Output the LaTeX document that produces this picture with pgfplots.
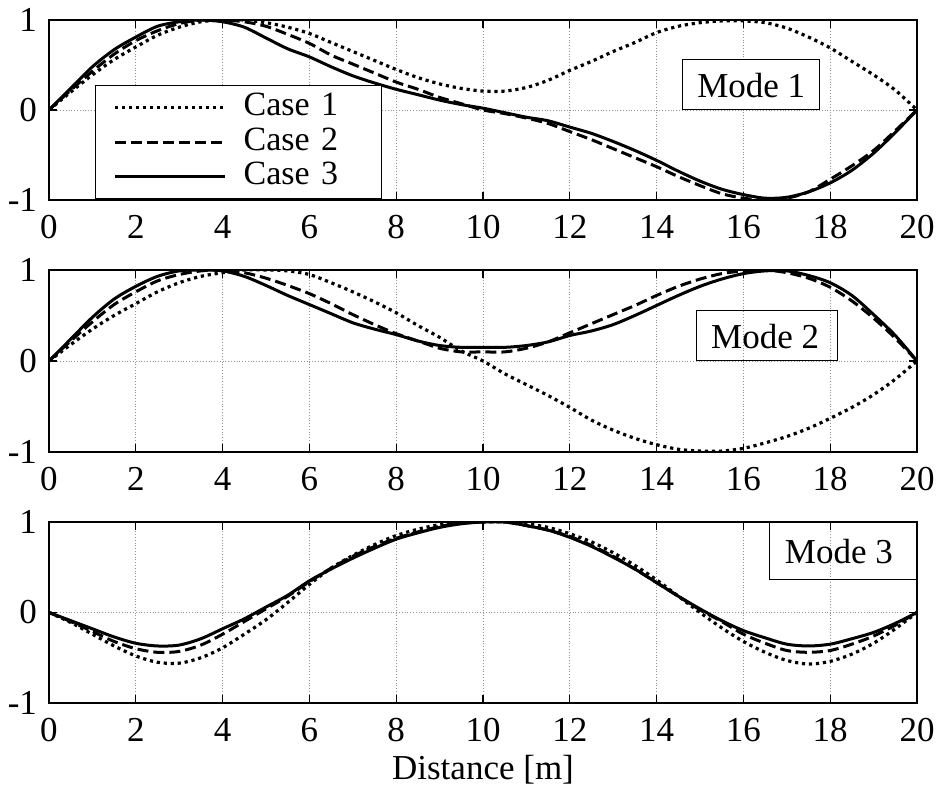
\documentclass[border=0pt]{standalone}
\usepackage{fontspec}
\setmainfont{Liberation Serif}
\usepackage{pgfplots}
\usepackage{pgfplotstable}
\pgfplotsset{compat=1.18}

% Normalised mode shapes along the span, three cases per mode
\pgfplotstableread{
x    c1    c2    c3
0    0     0     0
0.5  0.20  0.22  0.24
1    0.39  0.43  0.48
1.5  0.56  0.62  0.67
2    0.70  0.77  0.81
2.5  0.83  0.88  0.93
3    0.92  0.96  0.98
3.5  0.98  1.00  1.00
4    1.00  1.00  0.98
4.5  1.00  0.98  0.92
5    0.97  0.93  0.80
5.5  0.92  0.84  0.68
6    0.85  0.74  0.59
6.5  0.75  0.61  0.48
7    0.65  0.51  0.38
7.5  0.55  0.41  0.30
8    0.45  0.31  0.23
8.5  0.36  0.23  0.17
9    0.29  0.14  0.11
9.5  0.24  0.07  0.06
10   0.21  0.00  0.02
10.5 0.21  -0.04 -0.03
11   0.25  -0.09 -0.08
11.5 0.33  -0.15 -0.12
12   0.44  -0.24 -0.19
12.5 0.54  -0.33 -0.26
13   0.65  -0.43 -0.35
13.5 0.75  -0.53 -0.45
14   0.86  -0.63 -0.56
14.5 0.93  -0.74 -0.68
15   0.97  -0.84 -0.79
15.5 0.99  -0.93 -0.88
16   0.99  -0.98 -0.94
16.5 0.97  -1.00 -0.98
17   0.91  -0.98 -0.97
17.5 0.81  -0.91 -0.91
18   0.69  -0.77 -0.81
18.5 0.54  -0.62 -0.67
19   0.39  -0.45 -0.48
19.5 0.22  -0.23 -0.25
20   0     0     0
}\modeone

\pgfplotstableread{
x    c1    c2    c3
0    0     0     0
0.5  0.18  0.22  0.24
1    0.35  0.43  0.48
1.5  0.50  0.62  0.68
2    0.63  0.76  0.82
2.5  0.76  0.88  0.93
3    0.86  0.95  0.99
3.5  0.93  0.99  1.00
4    0.97  1.00  0.99
4.5  1.00  0.97  0.93
5    1.00  0.91  0.83
5.5  0.99  0.83  0.72
6    0.95  0.74  0.62
6.5  0.86  0.63  0.52
7    0.76  0.51  0.42
7.5  0.65  0.40  0.35
8    0.53  0.30  0.29
8.5  0.39  0.22  0.22
9    0.26  0.14  0.17
9.5  0.11  0.10  0.15
10   0.00  0.10  0.15
10.5 -0.14 0.10  0.15
11   -0.26 0.14  0.17
11.5 -0.38 0.21  0.21
12   -0.51 0.31  0.28
12.5 -0.65 0.41  0.33
13   -0.76 0.51  0.40
13.5 -0.85 0.61  0.50
14   -0.92 0.72  0.61
14.5 -0.97 0.82  0.72
15   -0.99 0.90  0.82
15.5 -0.99 0.96  0.90
16   -0.96 0.99  0.96
16.5 -0.90 1.00  0.99
17   -0.83 0.97  0.99
17.5 -0.74 0.91  0.94
18   -0.63 0.81  0.86
18.5 -0.51 0.66  0.72
19   -0.37 0.47  0.51
19.5 -0.20 0.25  0.28
20   0     0     0
}\modetwo

\pgfplotstableread{
x    c1    c2    c3
0    0     0     0
0.5  -0.11 -0.10 -0.09
1    -0.24 -0.21 -0.18
1.5  -0.37 -0.32 -0.27
2    -0.48 -0.40 -0.34
2.5  -0.55 -0.44 -0.37
3    -0.56 -0.43 -0.36
3.5  -0.50 -0.36 -0.29
4    -0.39 -0.24 -0.18
4.5  -0.24 -0.10 -0.07
5    -0.08 0.04  0.06
5.5  0.11  0.18  0.19
6    0.31  0.34  0.35
6.5  0.49  0.49  0.48
7    0.63  0.62  0.60
7.5  0.75  0.73  0.71
8    0.85  0.82  0.81
8.5  0.92  0.89  0.88
9    0.97  0.95  0.94
9.5  0.99  0.99  0.98
10   1.00  1.00  1.00
10.5 1.00  1.00  1.00
11   0.98  0.96  0.96
11.5 0.94  0.91  0.91
12   0.87  0.84  0.83
12.5 0.78  0.74  0.73
13   0.66  0.62  0.61
13.5 0.52  0.48  0.48
14   0.36  0.33  0.33
14.5 0.18  0.18  0.18
15   0.00  0.03  0.04
15.5 -0.17 -0.10 -0.09
16   -0.32 -0.24 -0.20
16.5 -0.44 -0.34 -0.28
17   -0.53 -0.42 -0.35
17.5 -0.57 -0.44 -0.37
18   -0.54 -0.42 -0.35
18.5 -0.46 -0.35 -0.29
19   -0.34 -0.26 -0.22
19.5 -0.18 -0.14 -0.12
20   0     0     0
}\modethree

\pgfplotsset{
  modeaxis/.style={
    scale only axis, width=434pt, height=90pt, anchor=south west,
    xmin=0, xmax=20, ymin=-1, ymax=1,
    xtick={0,2,4,6,8,10,12,14,16,18,20},
    xticklabels={0,2,4,6,8,10,12,14,16,18,20},
    ytick={-1,0,1}, yticklabels={-1,0,1},
    grid=major,
    major grid style={gray!85, line width=0.4pt, densely dotted},
    axis line style={line width=0.9pt},
    major tick length=4pt,
    tick style={line width=0.6pt, black},
    tick label style={font=\fontsize{17.5}{20}\selectfont},
    xticklabel style={yshift=-4pt},
    yticklabel style={xshift=-2.5pt},
    label style={font=\fontsize{17.5}{20}\selectfont},
  },
  case1/.style={black, line width=1.6pt, dash pattern=on 1.6pt off 1.9pt, smooth},
  case2/.style={black, line width=1.5pt, dash pattern=on 5.5pt off 2.5pt, smooth},
  case3/.style={black, line width=1.5pt, smooth},
}

\begin{document}
\begin{tikzpicture}
\useasboundingbox (0,0) rectangle (469pt,395.5pt);

% Mode 1
\begin{axis}[modeaxis, at={(24.5pt,295.5pt)},
  legend image code/.code={\draw[#1] (0pt,0pt) -- (55pt,0pt);},
  legend style={at={(0.053,0.005)}, anchor=south west, draw=black,
    line width=0.5pt,
    inner xsep=9pt, inner ysep=2.4pt, column sep=8.5pt,
    cells={anchor=west},
    nodes={font=\fontsize{17}{19}\selectfont, text width=60pt,
      text height=12pt, text depth=4pt, inner ysep=0.6pt, inner xsep=0pt}},
]
\addplot[case1] table[x=x, y=c1] {\modeone};
\addlegendentry{Case 1}
\addplot[case2] table[x=x, y=c2] {\modeone};
\addlegendentry{Case 2}
\addplot[case3] table[x=x, y=c3] {\modeone};
\addlegendentry{Case 3}
\draw[line width=0.5pt, fill=white] (axis cs:14.6,0) rectangle (axis cs:17.76,0.556);
\node[font=\fontsize{17.5}{20}\selectfont] at (axis cs:16.18,0.27) {Mode 1};
\end{axis}

% Mode 2
\begin{axis}[modeaxis, at={(24.5pt,169.5pt)}, height=91pt]
\addplot[case1] table[x=x, y=c1] {\modetwo};
\addplot[case2] table[x=x, y=c2] {\modetwo};
\addplot[case3] table[x=x, y=c3] {\modetwo};
\draw[line width=0.5pt] (axis cs:14.93,0) rectangle (axis cs:18.16,0.56);
\node[font=\fontsize{17.5}{20}\selectfont] at (axis cs:16.5,0.27) {Mode 2};
\end{axis}

% Mode 3
\begin{axis}[modeaxis, at={(24.5pt,44pt)}, height=90.5pt,
  xlabel={Distance [m]}]
\addplot[case1] table[x=x, y=c1] {\modethree};
\addplot[case2] table[x=x, y=c2] {\modethree};
\addplot[case3] table[x=x, y=c3] {\modethree};
\draw[line width=0.5pt] (axis cs:16.61,0.36) rectangle (axis cs:20,1);
\node[font=\fontsize{17.5}{20}\selectfont] at (axis cs:18.2,0.67) {Mode 3};
\end{axis}
\end{tikzpicture}
\end{document}
